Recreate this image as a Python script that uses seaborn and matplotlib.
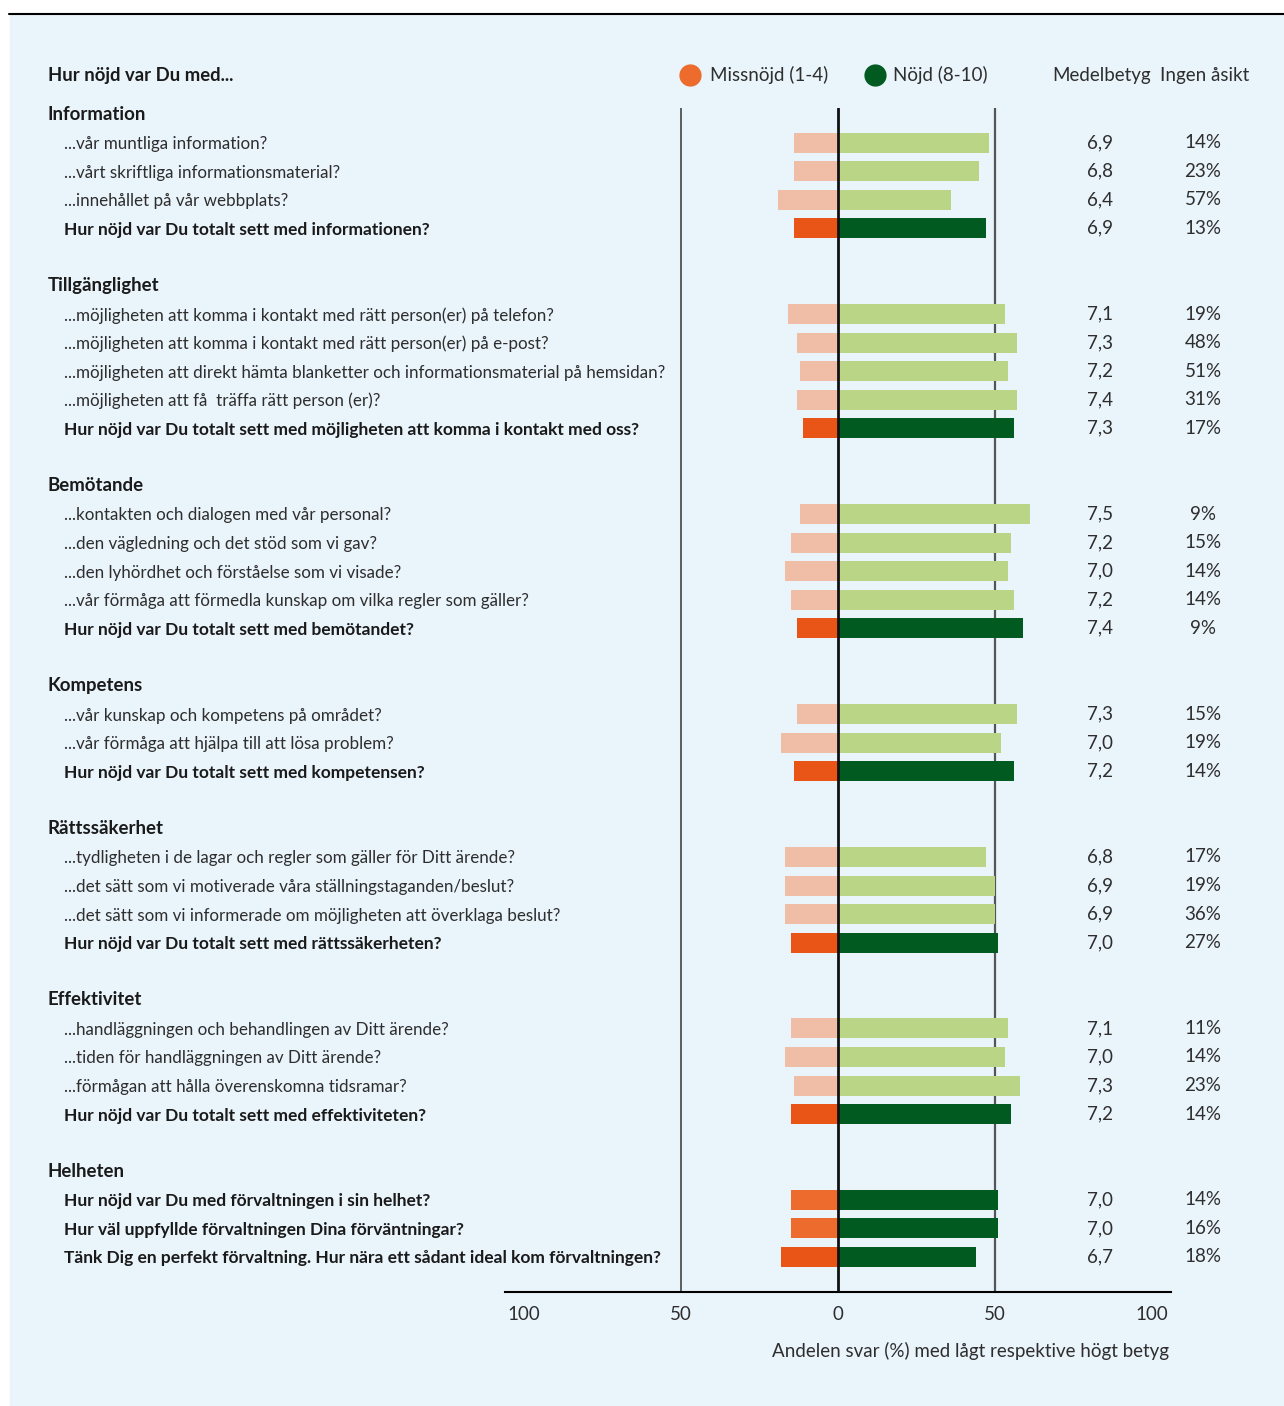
import numpy as np
import pandas as pd
import matplotlib.pyplot as plt
import matplotlib.transforms as mtransforms
from matplotlib.patches import Rectangle
from matplotlib.lines import Line2D
import seaborn as sns

# Data
groups = ["Information", "Tillgänglighet", "Bemötande", "Kompetens",
          "Rättssäkerhet", "Effektivitet", "Helheten"]
group_sizes = [4, 5, 5, 3, 4, 4, 3]

questions = [
    "...vår muntliga information?",
    "...vårt skriftliga informationsmaterial?",
    "...innehållet på vår webbplats?",
    "Hur nöjd var Du totalt sett med informationen?",
    "...möjligheten att komma i kontakt med rätt person(er) på telefon?",
    "...möjligheten att komma i kontakt med rätt person(er) på e-post?",
    "...möjligheten att direkt hämta blanketter och informationsmaterial på hemsidan?",
    "...möjligheten att få  träffa rätt person (er)?",
    "Hur nöjd var Du totalt sett med möjligheten att komma i kontakt med oss?",
    "...kontakten och dialogen med vår personal?",
    "...den vägledning och det stöd som vi gav?",
    "...den lyhördhet och förståelse som vi visade?",
    "...vår förmåga att förmedla kunskap om vilka regler som gäller?",
    "Hur nöjd var Du totalt sett med bemötandet?",
    "...vår kunskap och kompetens på området?",
    "...vår förmåga att hjälpa till att lösa problem?",
    "Hur nöjd var Du totalt sett med kompetensen?",
    "...tydligheten i de lagar och regler som gäller för Ditt ärende?",
    "...det sätt som vi motiverade våra ställningstaganden/beslut?",
    "...det sätt som vi informerade om möjligheten att överklaga beslut?",
    "Hur nöjd var Du totalt sett med rättssäkerheten?",
    "...handläggningen och behandlingen av Ditt ärende?",
    "...tiden för handläggningen av Ditt ärende?",
    "...förmågan att hålla överenskomna tidsramar?",
    "Hur nöjd var Du totalt sett med effektiviteten?",
    "Hur nöjd var Du med förvaltningen i sin helhet?",
    "Hur väl uppfyllde förvaltningen Dina förväntningar?",
    "Tänk Dig en perfekt förvaltning. Hur nära ett sådant ideal kom förvaltningen?",
]
kinds = ["sub", "sub", "sub", "total",
         "sub", "sub", "sub", "sub", "total",
         "sub", "sub", "sub", "sub", "total",
         "sub", "sub", "total",
         "sub", "sub", "sub", "total",
         "sub", "sub", "sub", "total",
         "overall", "overall", "total"]
missnojd = [14, 14, 19, 14,
            16, 13, 12, 13, 11,
            12, 15, 17, 15, 13,
            13, 18, 14,
            17, 17, 17, 15,
            15, 17, 14, 15,
            15, 15, 18]
nojd = [48, 45, 36, 47,
        53, 57, 54, 57, 56,
        61, 55, 54, 56, 59,
        57, 52, 56,
        47, 50, 50, 51,
        54, 53, 58, 55,
        51, 51, 44]
medelbetyg = ["6,9", "6,8", "6,4", "6,9",
              "7,1", "7,3", "7,2", "7,4", "7,3",
              "7,5", "7,2", "7,0", "7,2", "7,4",
              "7,3", "7,0", "7,2",
              "6,8", "6,9", "6,9", "7,0",
              "7,1", "7,0", "7,3", "7,2",
              "7,0", "7,0", "6,7"]
ingen_asikt = ["14%", "23%", "57%", "13%",
               "19%", "48%", "51%", "31%", "17%",
               "9%", "15%", "14%", "14%", "9%",
               "15%", "19%", "14%",
               "17%", "19%", "36%", "27%",
               "11%", "14%", "23%", "14%",
               "14%", "16%", "18%"]
tick_values = [-100, -50, 0, 50, 100]
tick_labels = ["100", "50", "0", "50", "100"]

# slot positions: header slot, then rows, then one blank slot
header_slots, row_slots = [], []
slot = 0
for n in group_sizes:
    header_slots.append(slot)
    row_slots.extend(range(slot + 1, slot + 1 + n))
    slot += n + 2

df = pd.DataFrame({"slot": row_slots, "kind": kinds,
                   "neg": [-v for v in missnojd], "pos": nojd})

neg_colors = {"sub": "#F0BDA6", "total": "#E85516", "overall": "#EC6B2D"}
pos_colors = {"sub": "#BBD587", "total": "#015B21", "overall": "#015B21"}
bg = "#EAF4FB"
txt = "#1a1a1a"
grey = "#2e2e2e"

sns.set_style("white")
plt.rcParams["font.family"] = ["Lato", "DejaVu Sans"]

W, H = 1284, 1406
fig = plt.figure(figsize=(W / 100, H / 100), dpi=100)
fig.patches.append(Rectangle((10 / W, 0), 1, 1 - 15 / H, transform=fig.transFigure,
                             color=bg, zorder=-5))
fig.add_artist(Line2D([9 / W, 1], [1 - 14 / H] * 2, color="black", lw=1.5))

ax = fig.add_axes([505 / W, 1 - 1292 / H, 666 / W, (1292 - 108) / H])
ax.set_zorder(2)
ax.set_facecolor("none")

sns.barplot(data=df, x="neg", y="slot", hue="kind", palette=neg_colors, orient="h",
            native_scale=True, dodge=False, width=0.7, saturation=1, legend=False,
            linewidth=0, ax=ax)
sns.barplot(data=df, x="pos", y="slot", hue="kind", palette=pos_colors, orient="h",
            native_scale=True, dodge=False, width=0.7, saturation=1, legend=False,
            linewidth=0, ax=ax)

ax.set_xlim(-106, 106)
ax.set_ylim((1292 - 114) / 28.575, (108 - 114) / 28.575)
ax.axvline(-50, color="#444444", lw=1.2, zorder=0)
ax.axvline(50, color="#555555", lw=1.6, zorder=0)
ax.axvline(0, color="#111111", lw=2, zorder=3)
for s in ["top", "right", "left"]:
    ax.spines[s].set_visible(False)
ax.spines["bottom"].set_color("black")
ax.spines["bottom"].set_linewidth(1.5)
ax.set_xticks(tick_values)
ax.set_xticklabels(tick_labels)
ax.tick_params(axis="x", length=0, pad=10, labelsize=13.5, labelcolor=grey)
ax.set_yticks([])
ax.set_xlabel("")
ax.set_ylabel("")

fig.text(1169 / W, 1 - 1351 / H, "Andelen svar (%) med lågt respektive högt betyg",
         ha="right", va="center", fontsize=13.5, color=grey)

# left labels
tr = mtransforms.blended_transform_factory(fig.transFigure, ax.transData)
for g, s in zip(groups, header_slots):
    ax.text(48 / W, s, g, transform=tr, ha="left", va="center", fontsize=13.4,
            fontweight="bold", color=txt, clip_on=False)
for q, k, s, m, n in zip(questions, kinds, row_slots, medelbetyg, ingen_asikt):
    bold = k != "sub"
    ax.text(64 / W, s + 0.05, q, transform=tr, ha="left", va="center",
            fontsize=12.5 if bold else 12.25,
            fontweight="bold" if bold else "normal", color=txt if bold else grey,
            clip_on=False)
    ax.text(1100 / W, s, m, transform=tr, ha="center", va="center", fontsize=13.5,
            color=grey, clip_on=False)
    ax.text(1203 / W, s, n, transform=tr, ha="center", va="center", fontsize=13.5,
            color=grey, clip_on=False)

# header row
ytop = 1 - 75 / H
fig.text(48 / W, ytop, "Hur nöjd var Du med...", ha="left", va="center",
         fontsize=13.3, fontweight="bold", color=txt)
fig.add_artist(Line2D([690 / W], [ytop], marker="o", markersize=15, color="#EC6B2D",
                      transform=fig.transFigure))
fig.text(710 / W, ytop, "Missnöjd (1-4)", ha="left", va="center", fontsize=13.5,
         color=grey)
fig.add_artist(Line2D([875 / W], [ytop], marker="o", markersize=15, color="#015B21",
                      transform=fig.transFigure))
fig.text(893 / W, ytop, "Nöjd (8-10)", ha="left", va="center", fontsize=13.5,
         color=grey)
fig.text(1052 / W, ytop, "Medelbetyg", ha="left", va="center", fontsize=13.5,
         color=grey)
fig.text(1160 / W, ytop, "Ingen åsikt", ha="left", va="center", fontsize=13.5,
         color=grey)

fig.savefig("out.png", dpi=100, facecolor="white")
